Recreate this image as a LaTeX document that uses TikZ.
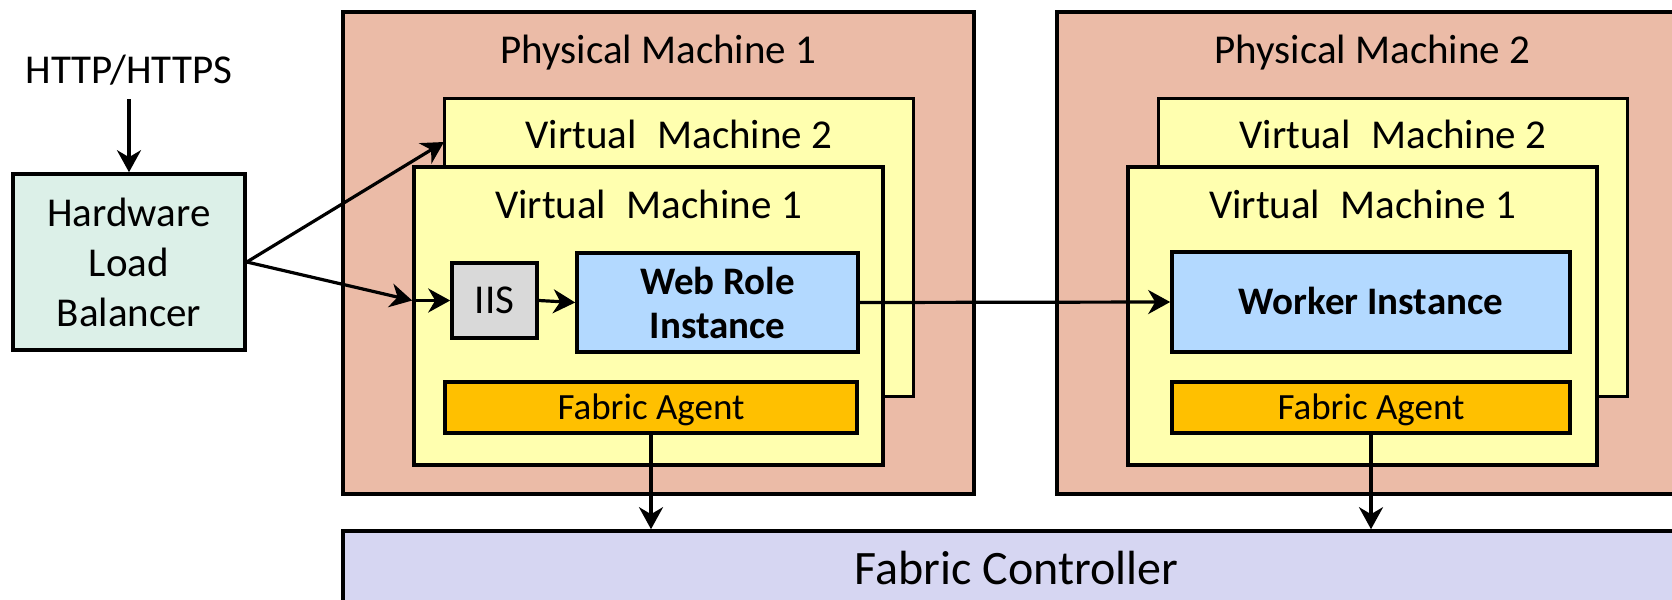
\documentclass[tikz,border=0pt]{standalone}
\usepackage{fontspec}
\setmainfont{Carlito}
\usetikzlibrary{arrows.meta}

\definecolor{pmfill}{RGB}{235,187,167}
\definecolor{vmfill}{RGB}{255,255,175}
\definecolor{rolefill}{RGB}{179,217,255}
\definecolor{iisfill}{RGB}{217,217,217}
\definecolor{agentfill}{RGB}{255,192,0}
\definecolor{fcfill}{RGB}{214,214,242}
\definecolor{lbfill}{RGB}{220,240,232}

\newcommand{\vmname}[1]{Virtual\hspace{0.5em}Machine #1}

\begin{document}
\begin{tikzpicture}[x=0.5pt,y=-0.5pt,
  box/.style={draw=black, line width=1.8pt, inner sep=0pt, align=center},
  capcenter/.style={text height=#1, text depth=0pt},
  pm/.style={box, fill=pmfill, minimum width=315.5pt, minimum height=241pt},
  vm/.style={box, fill=vmfill, minimum width=234.5pt, minimum height=149pt},
  role/.style={box, fill=rolefill, font=\fontsize{19.5}{22}\selectfont\bfseries},
  agent/.style={box, capcenter=12pt, fill=agentfill, minimum height=25.5pt,
                font=\fontsize{18.5}{22}\selectfont},
  title/.style={anchor=base, inner sep=0pt, font=\fontsize{20.5}{25}\selectfont},
  link/.style={line width=1.6pt, -{Stealth[length=11pt,width=12pt,inset=3.5pt]}},
]
\useasboundingbox (0,0) rectangle (1672,600);
\clip (0,0) rectangle (1672,600);
\fill[white] (0,0) rectangle (1672,600);

% incoming traffic and the load balancer
\node[title] (http) at (129,83) {HTTP/HTTPS};
\coordinate (httpend) at (129,99);
\node[box, fill=lbfill, minimum width=116pt, minimum height=88pt,
      font=\fontsize{20.5}{25}\selectfont] (lb) at (129,262) {Hardware\\Load\\Balancer};

% physical machine 1
\node[pm] (pm1) at (658.5,253) {};
\node[title] at (658.5,63) (pm1t) {Physical Machine 1};
\node[vm] (vm2a) at (679,247.5) {};
\node[title] at (679,148) (vm2at) {\vmname{2}};
\node[vm] (vm1a) at (648.5,316) {};
\node[title] at (648.5,218) (vm1at) {\vmname{1}};
\node[box, capcenter=13.3pt, fill=iisfill, minimum width=42.5pt, minimum height=37.5pt,
      font=\fontsize{20.5}{25}\selectfont] (iis) at (494.5,300.5) {IIS};
\node[role, minimum width=140.5pt, minimum height=49.5pt] (web) at (717.5,302.5) {Web Role\\Instance};
\node[agent, minimum width=206pt] (fa1) at (651,407.5) {Fabric Agent};

% physical machine 2
\node[pm] (pm2) at (1372.5,253) {};
\node[title] at (1372.5,63) (pm2t) {Physical Machine 2};
\node[vm] (vm2b) at (1393,247.5) {};
\node[title] at (1393,148) (vm2bt) {\vmname{2}};
\node[vm] (vm1b) at (1362.5,316) {};
\node[title] at (1362.5,218) (vm1bt) {\vmname{1}};
\node[role, capcenter=12.5pt, minimum width=199pt, minimum height=50pt] (worker) at (1371,302) {Worker Instance};
\node[agent, minimum width=199pt] (fa2) at (1371,407.5) {Fabric Agent};

% fabric controller
\node[box, capcenter=15.6pt, fill=fcfill, minimum width=673.5pt, minimum height=38pt,
      font=\fontsize{24}{29}\selectfont] (fc) at (1016.5,569) {Fabric Controller};

% connectors
\coordinate (vm1in) at (vm1a.west |- iis.west);
\coordinate (vm2in) at (444,142);
\draw[link] (httpend) -- (lb.north);
\draw[link] (lb.east) -- (vm2in);
\draw[link] (lb.east) -- (vm1in);
\draw[link] (vm1in) -- (iis.west);
\draw[link] (iis.east) -- (web.west);
\draw[link] (web.east) -- (worker.west);
\draw[link] (fa1.south) -- (fa1.south |- fc.north);
\draw[link] (fa2.south) -- (fa2.south |- fc.north);
\end{tikzpicture}
\end{document}
